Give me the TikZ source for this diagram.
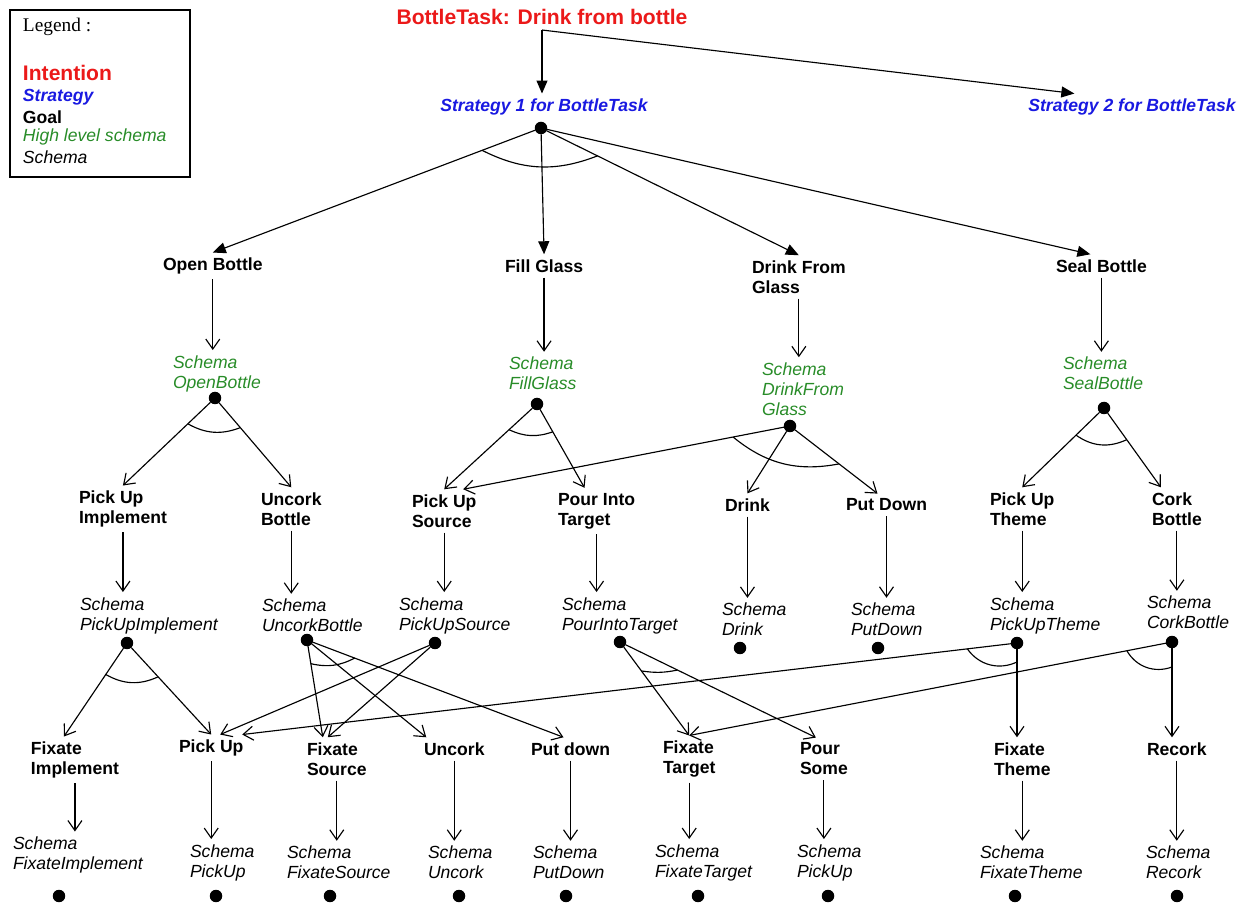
\documentclass[tikz,border=0pt]{standalone}
\usepackage{fontspec}
\setmainfont{Liberation Sans}
\newfontfamily\legendfont{Liberation Serif}
\usepackage{tikz}
\usetikzlibrary{calc,arrows.meta}
\definecolor{myred}{RGB}{235,25,25}
\definecolor{myblue}{RGB}{25,25,225}
\definecolor{mygreen}{RGB}{40,140,40}
\newcommand{\andarc}[6]{\draw[thinline] ($(#1)!#4!(#2)$) to[bend right=#6] ($(#1)!#5!(#3)$);}

\begin{document}
\begin{tikzpicture}[x=0.02cm, y=-0.02cm,
  every node/.style={inner xsep=0pt, inner ysep=3pt, outer sep=0pt},
  goal/.style={anchor=west, align=left, font=\fontsize{10}{11.4}\selectfont\bfseries},
  hschema/.style={anchor=west, align=left, text=mygreen, font=\fontsize{10}{11.4}\selectfont\itshape},
  schema/.style={anchor=west, align=left, font=\fontsize{10}{11.4}\selectfont\itshape},
  strategy/.style={text=myblue, font=\fontsize{10}{12}\selectfont\bfseries\itshape},
  dot/.style={circle, fill=black, inner sep=0pt, minimum size=0.25cm},
  thinline/.style={line width=0.65pt},
  openarrow/.style={thinline, -{Straight Barb[length=0.2cm, width=0.28cm]}},
  fullarrow/.style={thinline, -{Triangle[length=0.26cm, width=0.22cm]}}]
  \useasboundingbox (0,0) rectangle (1242,905);

  \node[draw, line width=0.8pt, minimum width=3.6cm, minimum height=3.34cm, anchor=north west] (legendbox) at (10,10) {};
  \node[anchor=west, font=\legendfont\fontsize{11}{13}\selectfont] (lgtitle) at (23,27) {Legend :};
  \node[anchor=west, text=myred, font=\fontsize{12}{14}\selectfont\bfseries] (lgint) at (23,73) {Intention};
  \node[anchor=west, strategy] (lgstr) at (23,97) {Strategy};
  \node[goal] (lggoal) at (23,117) {Goal};
  \node[hschema] (lghs) at (23,137) {High level schema};
  \node[schema] (lgsch) at (23,157) {Schema};

  \node[text=myred, font=\fontsize{12}{14}\selectfont\bfseries] (task) at (542,17) {BottleTask: Drink from bottle};
  \node[strategy] (s1) at (544,107) {Strategy 1 for BottleTask};
  \node[strategy] (s2) at (1132,107) {Strategy 2 for BottleTask};
  \node[dot] (s1dot) at (541,128) {};
  \coordinate (s2in) at ($(s2.north west)+(46,0)$);
  \draw[fullarrow] (task.south) -- (task.south |- s1.north);
  \draw[fullarrow] (task.south) -- (s2in);

  \node[goal] (obot) at (163,266) {Open Bottle};
  \node[goal] (fglass) at (505,266) {Fill Glass};
  \node[goal] (dfg) at (752,277) {Drink From\\Glass};
  \node[goal] (sbot) at (1056,266) {Seal Bottle};
  \coordinate (sbot-in) at ($(sbot.north)+(-11,0)$);
  \draw[fullarrow] (s1dot) -- (obot.north);
  \draw[fullarrow] (s1dot) -- (fglass.north);
  \draw[fullarrow] (s1dot) -- (dfg.north);
  \draw[fullarrow] (s1dot) -- (sbot-in);
  \andarc{s1dot}{obot.north}{dfg.north}{1.26cm}{1.26cm}{24}

  \node[hschema] (sobot) at (173,373.5) {Schema\\OpenBottle};
  \node[hschema] (sfglass) at (509,373.5) {Schema\\FillGlass};
  \node[hschema] (sdfg) at (762,389) {Schema\\DrinkFrom\\Glass};
  \node[hschema] (ssbot) at (1063,373.5) {Schema\\SealBottle};
  \node[dot] (dobot) at (215,398) {};
  \node[dot] (dfglass) at (537,404) {};
  \node[dot] (ddfg) at (790,426) {};
  \node[dot] (dsbot) at (1104,408) {};

  \node[goal] (pui) at (79,509) {Pick Up\\Implement};
  \node[goal] (ubot) at (261,509) {Uncork\\Bottle};
  \node[goal] (psrc) at (412,511) {Pick Up\\Source};
  \node[goal] (pit) at (558,511) {Pour Into\\Target};
  \node[goal] (drink) at (725,505) {Drink};
  \node[goal] (pdown) at (846,505) {Put Down};
  \node[goal] (puth) at (990,509) {Pick Up\\Theme};
  \node[goal] (cbot) at (1152,509) {Cork\\Bottle};
  \coordinate (pit-in) at ($(pit.north)+(-12,0)$);
  \coordinate (psrc-in) at ($(psrc.north)+(19,0)$);
  \coordinate (pdown-in) at ($(pdown.north)+(-9,0)$);
  \coordinate (cbot-in) at ($(cbot.north)+(-16,0)$);
  \draw[openarrow] (dobot) -- (pui.north);
  \draw[openarrow] (dobot) -- (ubot.north);
  \draw[openarrow] (dfglass) -- (psrc.north);
  \draw[openarrow] (dfglass) -- (pit-in);
  \draw[openarrow] (ddfg) -- (psrc-in);
  \draw[openarrow] (ddfg) -- (drink.north);
  \draw[openarrow] (ddfg) -- (pdown-in);
  \draw[openarrow] (dsbot) -- (puth.north);
  \draw[openarrow] (dsbot) -- (cbot-in);
  \andarc{dobot}{pui.north}{ubot.north}{0.75cm}{0.78cm}{25}
  \andarc{dfglass}{psrc.north}{pit-in}{0.76cm}{0.64cm}{22}
  \andarc{ddfg}{psrc-in}{pdown-in}{1.16cm}{1.24cm}{25}
  \andarc{dsbot}{puth.north}{cbot-in}{0.78cm}{0.78cm}{30}

  \node[schema] (spui) at (80,615.5) {Schema\\PickUpImplement};
  \node[schema] (subot) at (262,615.5) {Schema\\UncorkBottle};
  \node[schema] (spsrc) at (399,615.5) {Schema\\PickUpSource};
  \node[schema] (spit) at (562,615.5) {Schema\\PourIntoTarget};
  \node[schema] (sdrink) at (722,619.5) {Schema\\Drink};
  \node[schema] (spdown) at (851,619.5) {Schema\\PutDown};
  \node[schema] (sputh) at (990,615.5) {Schema\\PickUpTheme};
  \node[schema] (scbot) at (1147,612.5) {Schema\\CorkBottle};
  \node[dot] (dpui) at (127,643) {};
  \node[dot] (dubot) at (307,640) {};
  \node[dot] (dpsrc) at (435,643) {};
  \node[dot] (dpit) at (620,642) {};
  \node[dot] (ddrink) at (740,648) {};
  \node[dot] (dpdown) at (878,648) {};
  \node[dot] (dputh) at (1017,643) {};
  \node[dot] (dcbot) at (1172,642) {};

  \node[goal] (fimp) at (31,760) {Fixate\\Implement};
  \node[goal] (pup) at (179,748) {Pick Up};
  \node[goal] (fsrc) at (307,759) {Fixate\\Source};
  \node[goal] (unc) at (424,749) {Uncork};
  \node[goal] (pdn) at (531,749) {Put down};
  \node[goal] (ftgt) at (663,759) {Fixate\\Target};
  \node[goal] (psome) at (800,759) {Pour\\Some};
  \node[goal] (fthm) at (994,759) {Fixate\\Theme};
  \node[goal] (rec) at (1147,749) {Recork};
  \coordinate (fimp-in) at ($(fimp.north)+(-11,0)$);
  \coordinate (pup-in1) at ($(pup.north)+(9,0)$);
  \coordinate (pup-in2) at ($(pup.north)+(31,0)$);
  \coordinate (fsrc-in1) at ($(fsrc.north)+(-14,0)$);
  \coordinate (fsrc-in2) at ($(fsrc.north)+(-9,0)$);
  \coordinate (unc-in) at ($(unc.north)+(-28,0)$);
  \coordinate (pdn-in) at ($(pdn.north)+(-7,0)$);
  \coordinate (psome-in) at ($(psome.north)+(-8,0)$);
  \coordinate (fthm-in) at (dputh |- fthm.north);
  \coordinate (rec-in) at (dcbot |- rec.north);
  \draw[openarrow] (dpui) -- (fimp-in);
  \draw[openarrow] (dpui) -- (pup.north);
  \draw[openarrow] (dubot) -- (fsrc-in1);
  \draw[openarrow] (dubot) -- (unc-in);
  \draw[openarrow] (dubot) -- (pdn-in);
  \draw[openarrow] (dpsrc) -- (pup-in1);
  \draw[openarrow] (dpsrc) -- (fsrc-in2);
  \draw[openarrow] (dpit) -- (ftgt.north);
  \draw[openarrow] (dpit) -- (psome-in);
  \draw[openarrow] (dputh) -- (pup-in2);
  \draw[openarrow] (dputh) -- (fthm-in);
  \draw[openarrow] (dcbot) -- (ftgt.north);
  \draw[openarrow] (dcbot) -- (rec-in);
  \andarc{dpui}{fimp-in}{pup.north}{0.76cm}{0.92cm}{27}
  \andarc{dubot}{fsrc-in1}{pdn-in}{0.48cm}{1.02cm}{20}
  \andarc{dpit}{ftgt.north}{psome-in}{0.72cm}{1.28cm}{10}
  \andarc{dputh}{pup-in2}{fthm-in}{1.0cm}{0.38cm}{40}
  \andarc{dcbot}{ftgt.north}{rec-in}{0.92cm}{0.5cm}{40}

  \node[schema] (sfimp) at (13,855) {Schema\\FixateImplement};
  \node[schema] (spup) at (190,862.5) {Schema\\PickUp};
  \node[schema] (sfsrc) at (287,862.5) {Schema\\FixateSource};
  \node[schema] (sunc) at (428,862.5) {Schema\\Uncork};
  \node[schema] (spdn) at (533,862.5) {Schema\\PutDown};
  \node[schema] (sftgt) at (655,862.5) {Schema\\FixateTarget};
  \node[schema] (spsome) at (797,862.5) {Schema\\PickUp};
  \node[schema] (sfthm) at (980,862.5) {Schema\\FixateTheme};
  \node[schema] (srec) at (1146,862.5) {Schema\\Recork};
  \foreach \n/\x in {fimp/59, pup/216, fsrc/330, unc/459, pdn/566, ftgt/698, psome/828, fthm/1015, rec/1177}
    \node[dot] (d\n) at (\x,896) {};

  \foreach \n in {obot,fglass,dfg,sbot,pui,ubot,psrc,pit,drink,pdown,puth,cbot,fimp,pup,fsrc,unc,pdn,ftgt,psome,fthm,rec}
    \draw[openarrow] (\n.south) -- (\n.south |- s\n.north);
\end{tikzpicture}
\end{document}
